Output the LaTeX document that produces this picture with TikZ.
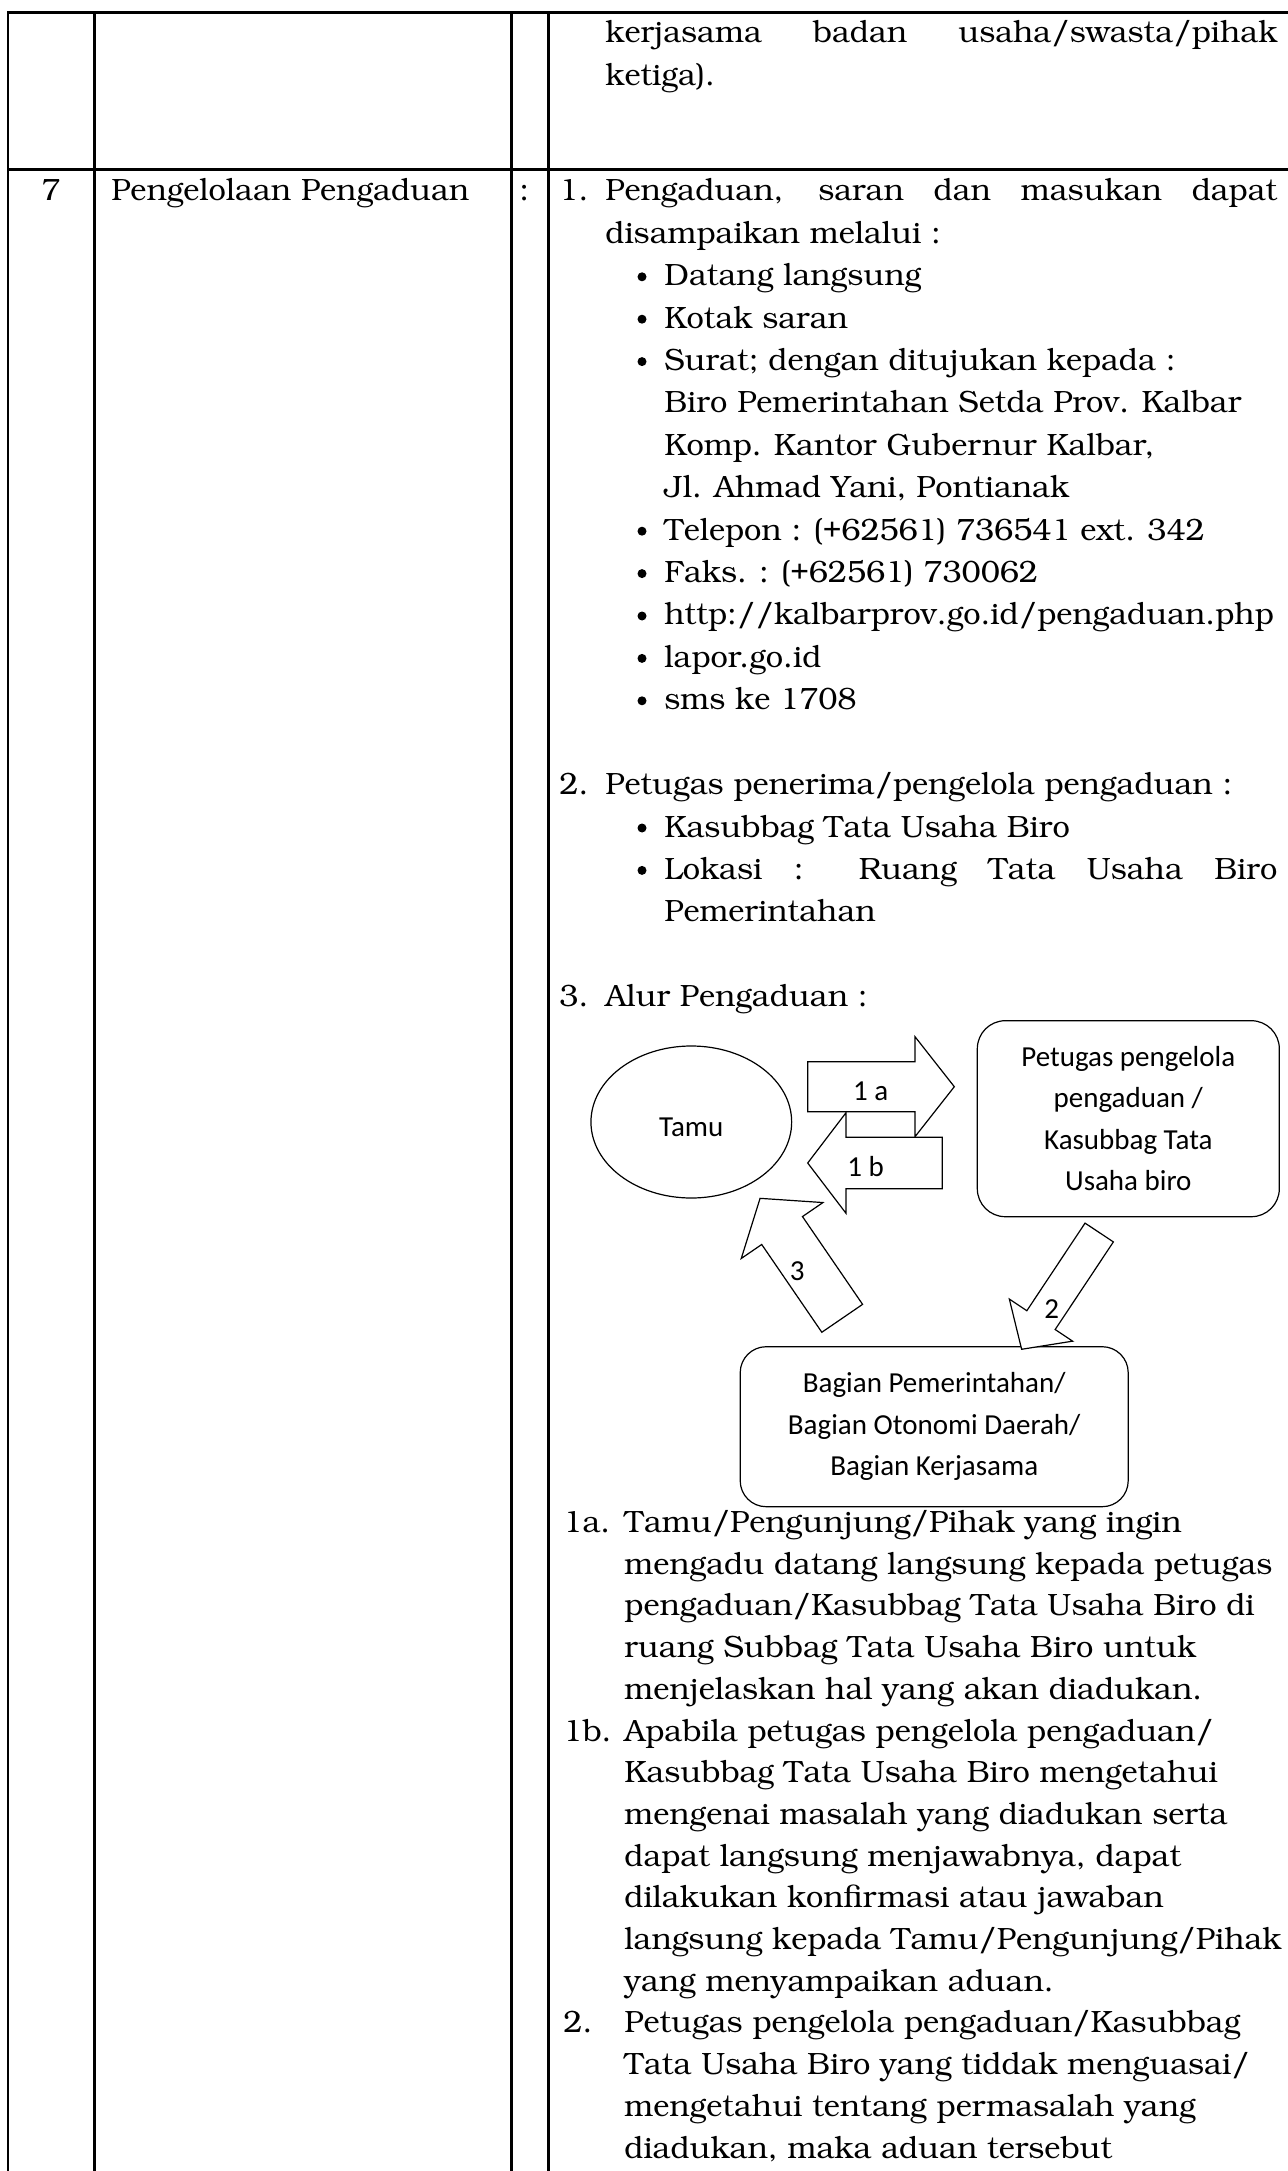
\documentclass[tikz,border=0pt]{standalone}
\usepackage[T1]{fontenc}
\usepackage{fontspec}
\usetikzlibrary{shapes.geometric, calc, positioning}
\newfontfamily\calibri{Carlito}
\newcommand\bookman{\fontencoding{T1}\fontfamily{pbk}\fontseries{l}\fontshape{n}\fontsize{15.4}{21.2}\selectfont}
\tikzstyle{tableline} = [line width=1.15pt, line cap=rect]
\tikzstyle{txt} = [font=\bookman, inner sep=0pt, anchor=base west]
\tikzstyle{dot} = [circle, fill=black, inner sep=0pt, minimum size=4.5pt]
\tikzstyle{flow} = [font=\calibri\fontsize{14.5}{20.75}\selectfont, align=center, draw=black, line width=0.6pt, inner sep=0pt]
\tikzstyle{roundbox} = [flow, rectangle, rounded corners=14pt]
\tikzstyle{guest} = [flow, ellipse]
\tikzstyle{num} = [font=\calibri\fontsize{14.5}{20.75}\selectfont, inner sep=0pt, anchor=base]
\tikzstyle{arrowbox} = [draw=black, fill=white, line width=0.6pt, line join=miter]
\tikzset{
	pics/blockarrow/.style args={#1/#2/#3/#4}{
		code={\draw[arrowbox] (0,-#2) -- ({#1-#4},-#2) -- ({#1-#4},-#3) -- (#1,0) -- ({#1-#4},#3) -- ({#1-#4},#2) -- (0,#2) -- cycle;}
	}
}
\begin{document}
\begin{tikzpicture}[x=0.5pt, y=-0.5pt]
		\useasboundingbox (0,0) rectangle (1288,2171);
		\draw [tableline] (8,12.5) -- (1288,12.5);
		\draw [tableline] (8,169.5) -- (1288,169.5);
		\foreach \x in {8,94.5,511.5,548.5}
			\draw [tableline] (\x,12.5) -- (\x,2171);
		\node (CarryOne) [txt] at (605,42.7) {\makebox[336pt][s]{kerjasama badan usaha/swasta/pihak}};
		\node (CarryTwo) [txt] at (605,85.3) {ketiga).};
		\node (RowNo) [txt, anchor=base] at (51,201) {7};
		\node (RowTitle) [txt] at (111,201) {Pengelolaan Pengaduan};
		\node (RowColon) [txt] at (519,201) {:};
		\node (NumOne) [txt] at (559,201) {1.};
		\node (PointOne) [txt] at (605,201) {\makebox[336pt][s]{Pengaduan, saran dan masukan dapat}};
		\node (PointOneB) [txt] at (605,243.4) {disampaikan melalui :};
		\node (NumTwo) [txt] at (559,794.6) {2.};
		\node (PointTwo) [txt] at (605,794.6) {Petugas penerima/pengelola pengaduan :};
		\node (NumThree) [txt] at (559,1006.6) {3.};
		\node (PointThree) [txt] at (605,1006.6) {Alur Pengaduan :};
		\foreach \k/\txt in {2/Datang langsung, 3/Kotak saran, 4/{Surat; dengan ditujukan kepada :}, 5/{Biro Pemerintahan Setda Prov. Kalbar}, 6/{Komp. Kantor Gubernur Kalbar,}, 7/{Jl. Ahmad Yani, Pontianak}, 8/{Telepon : (+62561) 736541 ext. 342}, 9/{Faks. : (+62561) 730062}, 10/{http://kalbarprov.go.id/pengaduan.php}, 11/{lapor.go.id}, 12/{sms ke 1708}, 15/{Kasubbag Tata Usaha Biro}, 16/{\makebox[306.5pt][s]{Lokasi : Ruang Tata Usaha Biro}}, 17/{Pemerintahan}}
			\node (Item\k) [txt] at (664,{201+42.4*\k}) {\txt};
		\foreach \k in {2,3,4,8,9,10,11,12,15,16}
			\node (Dot\k) [dot] at (642,{192+42.4*\k}) {};
		\node (Tamu) [guest, minimum width=100.35pt, minimum height=76pt, text height=15pt] at (691.3,1122) {Tamu};
		\node (Petugas) [roundbox, minimum width=151pt, minimum height=98pt] at (1128.3,1118.7) {Petugas pengelola\\pengaduan /\\Kasubbag Tata\\Usaha biro};
		\node (Bagian) [roundbox, rounded corners=13pt, minimum width=194pt, minimum height=80pt] at (934.2,1426.7) {Bagian Pemerintahan/\\Bagian Otonomi Daerah/\\Bagian Kerjasama};
		\pic (FlowOneA) at (807.7,1086.7) {blockarrow=146.6/25/50/39.3};
		\pic[rotate=180] (FlowOneB) at (942.3,1163) {blockarrow=134.6/25.8/50.3/38.3};
		\pic[rotate=124.4] (FlowThree) at (842.2,1318.3) {blockarrow=145.4/24.7/49.5/39};
		\pic[rotate=-123.6] (FlowTwo) at (1099.2,1232.5) {blockarrow=140.2/17/38/35};
		\node (LabelOneA) [num] at (870.8,1100) {1 a};
		\node (LabelOneB) [num] at (865.5,1176) {1 b};
		\node (LabelThree) [num] at (797.3,1280) {3};
		\node (LabelTwo) [num] at (1051.7,1318.3) {2};
		\node (NoteA) [txt] at (563,1532.5) {1a.};
		\node (NoteB) [txt] at (563,1741) {1b.};
		\node (NoteC) [txt] at (563,2032.9) {2.};
		\foreach \j/\txt in {0/{Tamu/Pengunjung/Pihak yang ingin}, 1/{mengadu datang langsung kepada petugas}, 2/{pengaduan/Kasubbag Tata Usaha Biro di}, 3/{ruang Subbag Tata Usaha Biro untuk}, 4/{menjelaskan hal yang akan diadukan.}, 5/{Apabila petugas pengelola pengaduan/}, 6/{Kasubbag Tata Usaha Biro mengetahui}, 7/{mengenai masalah yang diadukan serta}, 8/{dapat langsung menjawabnya, dapat}, 9/{dilakukan konfirmasi atau jawaban}, 10/{langsung kepada Tamu/Pengunjung/Pihak}, 11/{yang menyampaikan aduan.}, 12/{Petugas pengelola pengaduan/Kasubbag}, 13/{Tata Usaha Biro yang tiddak menguasai/}, 14/{mengetahui tentang permasalah yang}, 15/{diadukan, maka aduan tersebut}}
			\node (Note\j) [txt] at (624,{1532.5+41.7*\j}) {\txt};
\end{tikzpicture}
\end{document}
